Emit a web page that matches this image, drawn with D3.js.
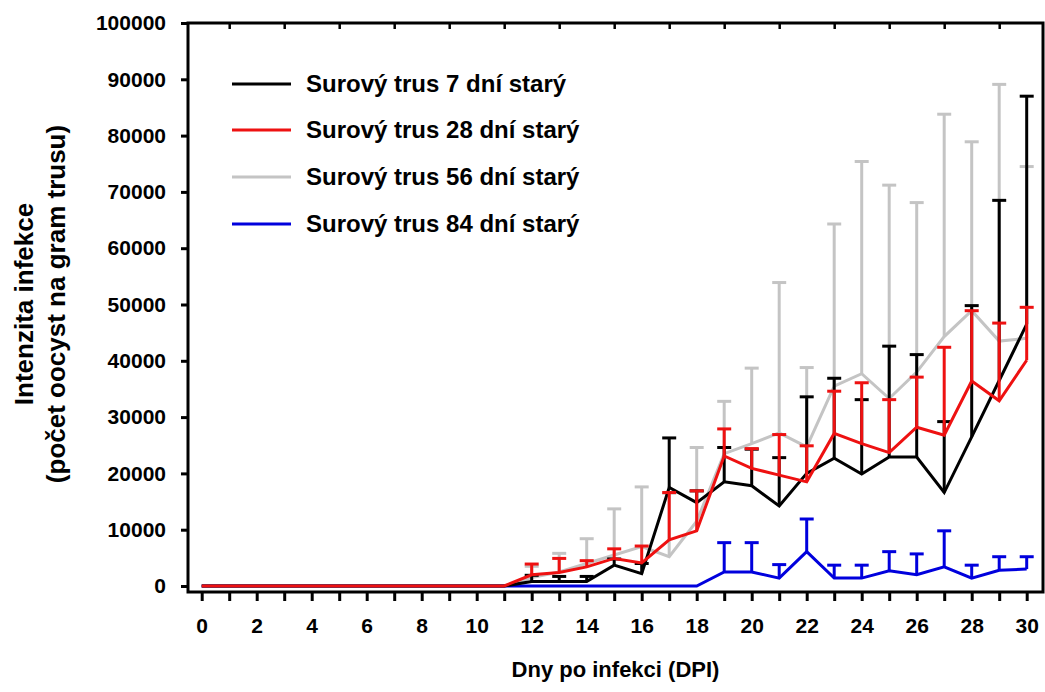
<!DOCTYPE html>
<html><head><meta charset="utf-8">
<script src="https://cdn.jsdelivr.net/npm/d3@7"></script>
<style>
body{margin:0;background:#fff;}
text{font-family:"Liberation Sans",Arial,sans-serif;font-weight:bold;fill:#000;}
</style>
</head><body><svg id="c" width="1045" height="692"></svg>
<script>
// ---- data ----
const days = [0,1,2,3,4,5,6,7,8,9,10,11,12,13,14,15,16,17,18,19,20,21,22,23,24,25,26,27,28,29,30];
const xTickLabels = ["0","","2","","4","","6","","8","","10","","12","","14","","16","","18","","20","","22","","24","","26","","28","","30"];
const yTicks = [0,10000,20000,30000,40000,50000,60000,70000,80000,90000,100000];
const topTicks = [1,3,5,7,9,11,13,15,17,19,21,23,25,27,29];

const mean7  = [0,0,0,0,0,0,0,0,0,0,0,0, 800,800,800,3700,2200,17500,14800,18500,17800,14200,20000,22700,19900,22900,22900,16600,26500,36500,46500];
const sd7    = [0,0,0,0,0,0,0,0,0,0,0,0, 1100,900,900,1100,1800,8800,2100,6100,6500,8600,13600,14200,13200,19700,18200,12600,23300,32000,40500];
const mean28 = [0,0,0,0,0,0,0,0,0,0,0,0, 2000,2400,3400,4900,4100,8200,9800,23100,20900,19700,18500,27100,25300,23700,28200,26800,36400,32900,40100];
const sd28   = [0,0,0,0,0,0,0,0,0,0,0,0, 1900,2500,1100,1700,3000,8400,7100,4800,3500,7200,6400,7500,10800,9400,8900,15600,12500,13800,9400];
const mean56 = [0,0,0,0,0,0,0,0,0,0,0,0, 1500,2500,4000,5500,7000,5200,11500,23500,25300,27200,24700,35500,37700,33300,38000,44300,48900,43500,44000];
const sd56   = [0,0,0,0,0,0,0,0,0,0,0,0, 2000,3300,4400,8200,10600,11300,13100,9300,13400,26700,14100,28800,37700,37900,30100,39500,30000,45600,30500];
const mean84 = [0,0,0,0,0,0,0,0,0,0,0,0, 0,0,0,0,0,0,0,2500,2500,1400,6100,1400,1400,2700,2000,3400,1400,2800,3000];
const sd84   = [0,0,0,0,0,0,0,0,0,0,0,0, 0,0,0,0,0,0,0,5200,5200,2400,5800,2300,2300,3400,3700,6400,2300,2400,2200];

const legendLabels = ["Surový trus 7 dní starý","Surový trus 28 dní starý","Surový trus 56 dní starý","Surový trus 84 dní starý"];
const colors = ["#000000","#ee1111","#c4c4c4","#0000dd"];
const xTitle = "Dny po infekci (DPI)";
const yTitle1 = "Intenzita infekce";
const yTitle2 = "(počet oocyst na gram trusu)";

// legend order index -> data
const seriesData = [
  {mean: mean7, sd: sd7, c: 0},
  {mean: mean28, sd: sd28, c: 1},
  {mean: mean56, sd: sd56, c: 2},
  {mean: mean84, sd: sd84, c: 3}
];
const drawOrder = [2,3,0,1];

// ---- layout ----
const svg = d3.select("#c");
const L = 188, R = 1043, T = 23, B = 592;
const x = d3.scaleLinear().domain([0,30]).range([201.7, 1026.7]);
const y = d3.scaleLinear().domain([0,100000]).range([586, 23]);

// series
const line = d3.line().x((d,i)=>x(days[i])).y(d=>y(d));
drawOrder.forEach(k=>{
  const s = seriesData[k];
  const col = colors[s.c];
  const g = svg.append("g");
  const eb = days.map((d,i)=>({d, m:s.mean[i], e:s.sd[i]})).filter(o=>o.e>0);
  g.selectAll("line.v").data(eb).enter().append("line")
    .attr("x1",o=>x(o.d)).attr("x2",o=>x(o.d))
    .attr("y1",o=>y(o.m)).attr("y2",o=>y(o.m+o.e))
    .attr("stroke",col).attr("stroke-width",3);
  g.selectAll("line.c").data(eb).enter().append("line")
    .attr("x1",o=>x(o.d)-7).attr("x2",o=>x(o.d)+7)
    .attr("y1",o=>y(o.m+o.e)).attr("y2",o=>y(o.m+o.e))
    .attr("stroke",col).attr("stroke-width",3);
  g.append("path").datum(s.mean).attr("d",line)
    .attr("fill","none").attr("stroke",col).attr("stroke-width",3).attr("stroke-linejoin","miter");
});

// frame
svg.append("rect").attr("x",L).attr("y",T).attr("width",R-L).attr("height",B-T)
  .attr("fill","none").attr("stroke","#000").attr("stroke-width",3);

// y axis
const ya = svg.append("g").attr("transform",`translate(${L},0)`)
  .call(d3.axisLeft(y).tickValues(yTicks).tickSize(7).tickPadding(15).tickFormat(d=>String(d)));
ya.select(".domain").remove();
ya.selectAll(".tick line").attr("stroke","#000").attr("stroke-width",3);
ya.selectAll(".tick text").style("font-size","21px").attr("font-family",null);

// x axis bottom
const xa = svg.append("g").attr("transform",`translate(0,${B})`)
  .call(d3.axisBottom(x).tickValues(days).tickSize(9).tickPadding(17).tickFormat((d,i)=>xTickLabels[i]));
xa.select(".domain").remove();
xa.selectAll(".tick line").attr("stroke","#000").attr("stroke-width",3);
xa.selectAll(".tick text").style("font-size","21px").attr("font-family",null);

// top ticks
const ta = svg.append("g").attr("transform",`translate(0,${T})`)
  .call(d3.axisTop(x).tickValues(topTicks).tickSize(-6).tickFormat(""));
ta.select(".domain").remove();
ta.selectAll(".tick line").attr("stroke","#000").attr("stroke-width",2.5);

// titles
svg.append("text").attr("x",(L+R)/2).attr("y",677).attr("text-anchor","middle")
  .style("font-size","22px").text(xTitle);
svg.append("text").attr("transform","translate(33,304) rotate(-90)").attr("text-anchor","middle")
  .style("font-size","26px").text(yTitle1);
svg.append("text").attr("transform","translate(65,304) rotate(-90)").attr("text-anchor","middle")
  .style("font-size","26px").text(yTitle2);

// legend
const legY = [84,130,177,224];
legendLabels.forEach((lab,i)=>{
  svg.append("line").attr("x1",232).attr("x2",291).attr("y1",legY[i]).attr("y2",legY[i])
    .attr("stroke",colors[i]).attr("stroke-width",3);
  svg.append("text").attr("x",306).attr("y",legY[i]).attr("dy","0.35em")
    .style("font-size","24px").text(lab);
});
</script></body></html>
